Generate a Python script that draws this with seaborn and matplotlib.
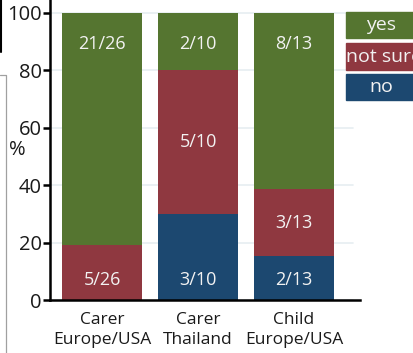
import matplotlib
matplotlib.use("Agg")
import matplotlib.pyplot as plt
import seaborn as sns
import pandas as pd
from matplotlib.patches import Rectangle
from matplotlib.lines import Line2D

categories = ["Carer\nEurope/USA", "Carer\nThailand", "Child\nEurope/USA"]
no_pct = [0.0, 30.0, 15.4]
notsure_pct = [19.2, 50.0, 23.1]
yes_pct = [80.8, 20.0, 61.5]
no_lbl = ["", "3/10", "2/13"]
notsure_lbl = ["5/26", "5/10", "3/13"]
yes_lbl = ["21/26", "2/10", "8/13"]
series = ["yes", "not sure", "no"]
yticks = [0, 20, 40, 60, 80, 100]

C_YES = "#557530"
C_NS = "#8f3840"
C_NO = "#1c4870"

sns.set_theme(style="white")
plt.rcParams["font.family"] = ["Open Sans", "DejaVu Sans"]

fig = plt.figure(figsize=(4.14, 3.53), dpi=100)
ax = fig.add_axes([50/414, 53/353, 310/414, 300/353])

df = pd.DataFrame({"cat": categories, "no": no_pct, "ns": notsure_pct, "yes": yes_pct})
df["ns_bottom"] = df["no"]
df["yes_bottom"] = df["no"] + df["ns"]

W = 0.84
sns.barplot(data=df, x="cat", y="no", color=C_NO, width=W, saturation=1, ax=ax, linewidth=0)
sns.barplot(data=df, x="cat", y="ns", bottom=df["ns_bottom"], color=C_NS, width=W, saturation=1, ax=ax, linewidth=0)
sns.barplot(data=df, x="cat", y="yes", bottom=df["yes_bottom"], color=C_YES, width=W, saturation=1, ax=ax, linewidth=0)

# labels
for i in range(len(categories)):
    segs = [(0, no_pct[i], no_lbl[i]),
            (no_pct[i], no_pct[i] + notsure_pct[i], notsure_lbl[i]),
            (no_pct[i] + notsure_pct[i], 100.0, yes_lbl[i])]
    for lo, hi, lab in segs:
        if not lab or hi - lo <= 0:
            continue
        if lo < 0.01:
            y = 7.0
        elif hi > 99.9:
            y = 89.0
        else:
            y = (lo + hi) / 2
        ax.text(i, y, lab, ha="center", va="center", color="#f2f2f2", fontsize=13)

ax.set_ylim(0, 104.5)
ax.set_xlim(-0.542, 2.6875)
ax.set_yticks(yticks)
ax.set_yticklabels([str(t) for t in yticks], fontsize=14.5, color="#1a1a1a")
for t in yticks:
    ax.axhline(t, xmin=0, xmax=(353-50)/310, color="#e6edf1", lw=1.2, zorder=0)
ax.set_axisbelow(True)
ax.set_xlabel("")
ax.set_ylabel("")
ax.tick_params(axis="y", length=5, width=1.8, color="black", pad=1, left=True)
ax.tick_params(axis="x", length=0, pad=9, labelsize=12.5, labelcolor="#1a1a1a")
ax.set_xticks(range(len(categories)))
ax.set_xticklabels(categories, linespacing=1.3)
for s in ["top", "right"]:
    ax.spines[s].set_visible(False)
for s in ["left", "bottom"]:
    ax.spines[s].set_color("black")
    ax.spines[s].set_linewidth(1.8)

fig.text(17/414, 1 - 150/353, "%", fontsize=14.5, ha="center", va="center", color="#1a1a1a")

# legend boxes
leg = [("yes", C_YES, 12, 38), ("not sure", C_NS, 43, 70), ("no", C_NO, 74, 100)]
for name, col, y0, y1 in leg:
    fig.patches.append(Rectangle((346/414, 1 - y1/353), 70/414, (y1 - y0)/353,
                                 transform=fig.transFigure, color=col, zorder=3))
    tx = 381/414 if name != "not sure" else 346/414
    fig.text(tx, 1 - (y0 + y1) / 2 / 353, name, ha="center" if name != "not sure" else "left",
             va="center", color="#f2f2f2", fontsize=14, zorder=4)

# decorative fragments at left edge
fig.add_artist(Line2D([1.5/414, 1.5/414], [1, 1 - 52/353], transform=fig.transFigure, color="black", lw=1.5))
fig.add_artist(Line2D([0, 6/414, 6/414], [1 - 75/353, 1 - 75/353, 0], transform=fig.transFigure, color="#a0a0a0", lw=0.9))

fig.savefig("out.png", dpi=100)
